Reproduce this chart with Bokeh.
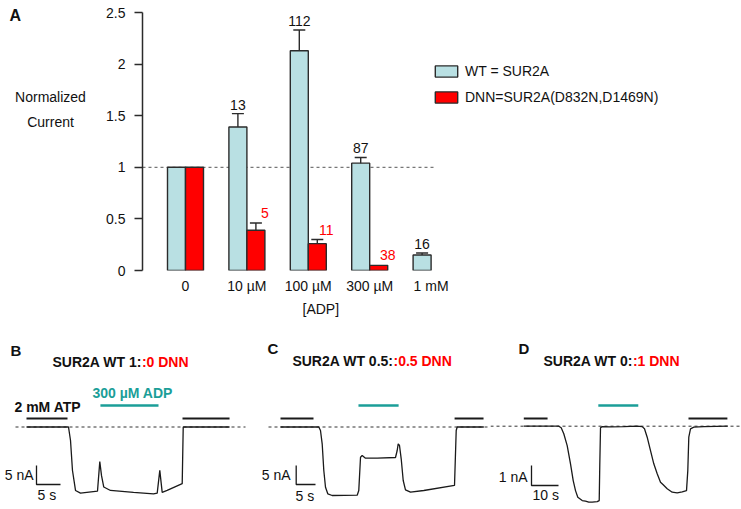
import numpy as np
from bokeh.plotting import figure
from bokeh.models import (Range1d, FixedTicker, Label, Legend, LegendItem, Whisker,
                          TeeHead, ColumnDataSource, Title)
from bokeh.layouts import column, row
from bokeh.embed import file_html
from bokeh.resources import INLINE
from bokeh.core.properties import value

FONT = "Liberation Sans"
RED = "#ff0000"
TEAL = "#1b9e98"
WT_FILL = "#b9e0e3"
EDGE = "#2b2b2b"
K = "#111111"

# ---------------- data: panel A ----------------
adp_labels = ["0", "10 µM", "100 µM", "300 µM", "1 mM"]
wt_mean = [1.0, 1.39, 2.13, 1.04, 0.15]
wt_sem = [0.0, 0.13, 0.20, 0.055, 0.02]
wt_n = ["", "13", "112", "87", "16"]
dnn_mean = [1.0, 0.39, 0.26, 0.05]
dnn_sem = [0.0, 0.07, 0.04, 0.0]
dnn_n = ["", "5", "11", "38"]
y_ticks = [0, 0.5, 1, 1.5, 2, 2.5]

# ---------------- data: traces (time s, current nA rel. baseline) ----------------
tB = [0, 8.75, 9.17, 9.58, 10.21, 11.25, 14.79, 15.27, 15.63, 16.1,
      17.5, 22.3, 26.46, 27.23, 27.77, 28.27, 29.3, 32.44, 32.65, 42.3]
iB = [0, 0, -3.55, -11.45, -16.7, -17.4, -16.9, -9.1, -12.8, -15.8,
      -16.7, -17.2, -17.6, -17.4, -11.4, -17.2, -16.7, -14.9, 0, 0]
atpB = [(0, 8.54), (32.5, 42.3)]
adpB = [(15.4, 27.5)]

tC = [0, 9.92, 10.36, 10.8, 11.22, 11.66, 12.25, 13.39, 19.87, 20.28,
      20.73, 21.16, 22.02, 25.05, 29.79, 30.23, 30.49, 30.83, 31.27, 31.79,
      32.38, 33.68, 37.12, 45.08, 45.52, 45.78, 52.67]
iC = [0, 0, -0.92, -4.42, -11.45, -15.84, -17.58, -18.03, -17.95, -16.71,
      -7.95, -7.5, -8.21, -8.21, -8.03, -6.18, -4.42, -4.87, -8.37, -14.08,
      -16.53, -17.16, -16.71, -15.39, -0.92, 0, 0]
atpC = [(0, 8.55), (45.1, 52.6)]
adpC = [(20.2, 30.6)]

tD = [0, 12.96, 13.85, 14.81, 16.07, 17.3, 18.3, 19.15, 20.0, 21.63,
      22.85, 24.07, 25.33, 27.19, 27.93, 28.15, 28.41, 29.04, 32.11, 37.04,
      42.0, 43.85, 44.7, 45.7, 46.93, 48.15, 49.41, 50.63, 51.63, 53.11,
      54.96, 56.81, 58.67, 60.26, 60.74, 61.11, 61.74, 62.96, 66.67, 75.56]
iD = [0, 0, -0.08, -0.38, -0.97, -1.88, -2.72, -3.22, -3.55, -3.72,
      -3.75, -3.8, -3.8, -3.77, -3.72, -1.88, -0.08, -0.02, -0.03, -0.02,
      0, -0.02, -0.13, -0.55, -1.22, -1.88, -2.38, -2.8, -2.93, -3.13,
      -3.3, -3.33, -3.28, -3.22, -2.22, -0.55, -0.13, -0.05, -0.02, 0]
atpD = [(0, 8.8), (61.0, 75.4)]
adpD = [(27.6, 42.4)]

# ---------------- layout constants (px) ----------------
TOTAL_W = 741
A_H = 330
W_L = 100                  # left label strip
FRAME_LEFT = 142           # page x of y axis
AXIS_TOP, FRAME_BOTTOM = 12, 270
PX_PER_GROUP = 61.4
G0_X = 185.0
PX_PER_UNIT = (FRAME_BOTTOM - AXIS_TOP) / 2.5

# ---------------- left strip with panel letter and y title ----------------
pL = figure(width=W_L, height=A_H, x_range=Range1d(0, 1), y_range=Range1d(0, 1),
            output_backend="svg", toolbar_location=None, title=None,
            x_axis_type=None, y_axis_type=None, min_border=0, min_border_left=0,
            min_border_right=0, min_border_top=0, min_border_bottom=A_H - FRAME_BOTTOM)
pL.outline_line_color = None

def labL(text, rx, ry, align="left", size="14px", style="normal"):
    pL.add_layout(Label(x=rx, y=FRAME_BOTTOM - ry, x_units="screen", y_units="screen",
                        text=text, text_align=align, text_baseline="middle", text_font=FONT,
                        text_font_size=size, text_font_style=style, text_color=K))

labL("A", 9, 15, size="16px", style="bold")
labL("Normalized", 50, 96, align="center")
labL("Current", 50, 121, align="center")

# ---------------- panel A ----------------
A_W = TOTAL_W - W_L
x_start = (FRAME_LEFT - G0_X) / PX_PER_GROUP
x_end = x_start + (TOTAL_W - FRAME_LEFT) / PX_PER_GROUP
y_top = 2.5 + AXIS_TOP / PX_PER_UNIT
bw = 18.0 / PX_PER_GROUP

pA = figure(width=A_W, height=A_H, x_range=Range1d(x_start, x_end), y_range=Range1d(0, y_top),
            output_backend="svg", toolbar_location=None, title=None,
            min_border_left=FRAME_LEFT - W_L, min_border_right=0, min_border_top=0,
            min_border_bottom=A_H - FRAME_BOTTOM)
pA.outline_line_color = None
pA.grid.visible = False

pos = np.arange(len(adp_labels), dtype=float)
wt_x = pos - bw / 2
dnn_x = pos[:len(dnn_mean)] + bw / 2

pA.line([x_start, pos[-1] + 0.04], [1, 1], line_dash="3 3", line_color="#555555", line_width=1)

r_wt = pA.vbar(x=wt_x, top=wt_mean, width=bw, bottom=0, fill_color=WT_FILL,
               line_color=EDGE, line_width=1.4)
r_dnn = pA.vbar(x=dnn_x, top=dnn_mean, width=bw, bottom=0, fill_color=RED,
                line_color=EDGE, line_width=1.4)

def add_err(xs, m, s):
    keep = [k for k in range(len(m)) if s[k] > 0]
    src = ColumnDataSource(dict(x=[xs[k] for k in keep], lo=[m[k] for k in keep],
                                hi=[m[k] + s[k] for k in keep]))
    w = Whisker(source=src, base="x", lower="lo", upper="hi", line_color=EDGE, line_width=1.4,
                upper_head=TeeHead(size=12, line_color=EDGE, line_width=1.4), lower_head=None,
                level="overlay")
    pA.add_layout(w)

add_err(wt_x, wt_mean, wt_sem)
add_err(dnn_x, dnn_mean, dnn_sem)

pA.text(x=wt_x, y=[m + s for m, s in zip(wt_mean, wt_sem)], text=wt_n, text_align="center",
        text_baseline="bottom", y_offset=-4, text_font=value(FONT), text_font_size="14px",
        text_color=K)
pA.text(x=dnn_x, y=[m + s for m, s in zip(dnn_mean, dnn_sem)], text=dnn_n, text_align="center",
        text_baseline="bottom", x_offset=9, y_offset=-5, text_font=value(FONT),
        text_font_size="14px", text_color=RED)

ya = pA.yaxis[0]
ya.ticker = FixedTicker(ticks=y_ticks)
ya.bounds = (0, 2.5)
ya.major_label_overrides = {(int(t) if float(t).is_integer() else t):
                            (str(int(t)) if float(t).is_integer() else str(t)) for t in y_ticks}
ya.axis_line_color = EDGE
ya.axis_line_width = 1.5
ya.major_tick_line_color = EDGE
ya.major_tick_line_width = 1.5
ya.major_tick_out = 8
ya.major_tick_in = 0
ya.minor_tick_line_color = None
ya.major_label_standoff = 9
ya.major_label_text_font = FONT
ya.major_label_text_font_size = "14px"
ya.major_label_text_color = K

xa = pA.xaxis[0]
xa.ticker = FixedTicker(ticks=list(pos))
xa.major_label_overrides = {int(k): lab for k, lab in zip(pos, adp_labels)}
xa.axis_line_color = None
xa.major_tick_line_color = None
xa.minor_tick_line_color = None
xa.major_label_standoff = 1
xa.major_label_text_font = FONT
xa.major_label_text_font_size = "14px"
xa.major_label_text_color = K

pA.add_layout(Title(text="[ADP]", align="left", offset=160, vertical_align="top", standoff=8,
                    text_font=FONT, text_font_size="14px", text_font_style="normal",
                    text_color=K), "below")

legend = Legend(items=[LegendItem(label="WT = SUR2A", renderers=[r_wt]),
                       LegendItem(label="DNN=SUR2A(D832N,D1469N)", renderers=[r_dnn])],
                location=(290, 165), glyph_width=28, glyph_height=14, label_height=14,
                label_standoff=5, spacing=10, padding=0, margin=0,
                border_line_color=None, background_fill_alpha=0,
                label_text_font=FONT, label_text_font_size="14px", label_text_color=K)
pA.add_layout(legend)

# ---------------- trace panels ----------------
ROW_TOP = A_H
ROW_H = 179
ROW_BOTTOM = ROW_TOP + ROW_H

def trace_panel(left, width, t0x, pps, base, ppn, t, cur, atp, adp, dash_px,
                bar_corner, bar_t, bar_i, texts):
    to_t = lambda px: (px - t0x) / pps
    to_i = lambda py: (base - py) / ppn
    f = figure(width=width, height=ROW_H, x_range=Range1d(to_t(left), to_t(left + width)),
               y_range=Range1d(to_i(ROW_BOTTOM), to_i(ROW_TOP)), output_backend="svg",
               toolbar_location=None, title=None, x_axis_type=None, y_axis_type=None,
               min_border=0, min_border_left=0, min_border_right=0, min_border_top=0,
               min_border_bottom=0)
    f.outline_line_color = None
    f.line([to_t(dash_px[0]), to_t(dash_px[1])], [0, 0], line_dash="3 3",
           line_color="#333333", line_width=1)
    f.segment(x0=[a for a, b in atp], x1=[b for a, b in atp], y0=[to_i(418)] * len(atp),
              y1=[to_i(418)] * len(atp), line_color="#1a1a1a", line_width=2.2)
    f.segment(x0=[a for a, b in adp], x1=[b for a, b in adp], y0=[to_i(405)] * len(adp),
              y1=[to_i(405)] * len(adp), line_color=TEAL, line_width=2.6)
    f.line(t, cur, line_color="#1a1a1a", line_width=1.3)
    cx, cy = to_t(bar_corner[0]), to_i(bar_corner[1])
    f.line([cx, cx, cx + bar_t], [cy + bar_i, cy, cy], line_color="#1a1a1a", line_width=1.3)
    for (txt, rx, ry, align, size, style, color) in texts:
        f.add_layout(Label(x=rx - left, y=ROW_BOTTOM - ry, x_units="screen", y_units="screen",
                           text=txt, text_align=align, text_baseline="middle", text_font=FONT,
                           text_font_size=size, text_font_style=style, text_color=color))
    return f

pB = trace_panel(0, 250, 26, 4.8, 426.5, 3.8, tB, iB, atpB, adpB, (15, 245), (36, 484), 5, 5, [
    ("B", 10, 350, "left", "15px", "bold", K),
    ("SUR2A WT 1:", 141.4, 361.5, "right", "14px", "bold", K),
    (":0 DNN", 141.4, 361.5, "left", "14px", "bold", RED),
    ("300 µM ADP", 92, 392, "left", "14px", "bold", TEAL),
    ("2 mM ATP", 14, 406.5, "left", "14px", "bold", K),
    ("5 nA", 33, 474, "right", "14px", "normal", K),
    ("5 s", 37, 494, "left", "14px", "normal", K),
])
pC = trace_panel(250, 240, 280, 3.86, 426.5, 3.8, tC, iC, atpC, adpC, (268, 493), (295.7, 484), 5, 5, [
    ("C", 267, 348, "left", "15px", "bold", K),
    ("SUR2A WT 0.5:", 393, 360.5, "right", "14px", "bold", K),
    (":0.5 DNN", 393, 360.5, "left", "14px", "bold", RED),
    ("5 nA", 290, 474, "right", "14px", "normal", K),
    ("5 s", 295, 495, "left", "14px", "normal", K),
])
pD = trace_panel(490, TOTAL_W - 490, 523.3, 2.7, 425.7, 20.0, tD, iD, atpD, adpD, (490, 741),
                 (531, 485), 10, 1, [
    ("D", 518, 348, "left", "15px", "bold", K),
    ("SUR2A WT 0:", 632.4, 360.5, "right", "14px", "bold", K),
    (":1 DNN", 632.4, 360.5, "left", "14px", "bold", RED),
    ("1 nA", 527, 476, "right", "14px", "normal", K),
    ("10 s", 532, 494, "left", "14px", "normal", K),
])

layout = column(row(pL, pA, spacing=0), row(pB, pC, pD, spacing=0), spacing=0)
open("out.html", "w").write(file_html(layout, INLINE))
